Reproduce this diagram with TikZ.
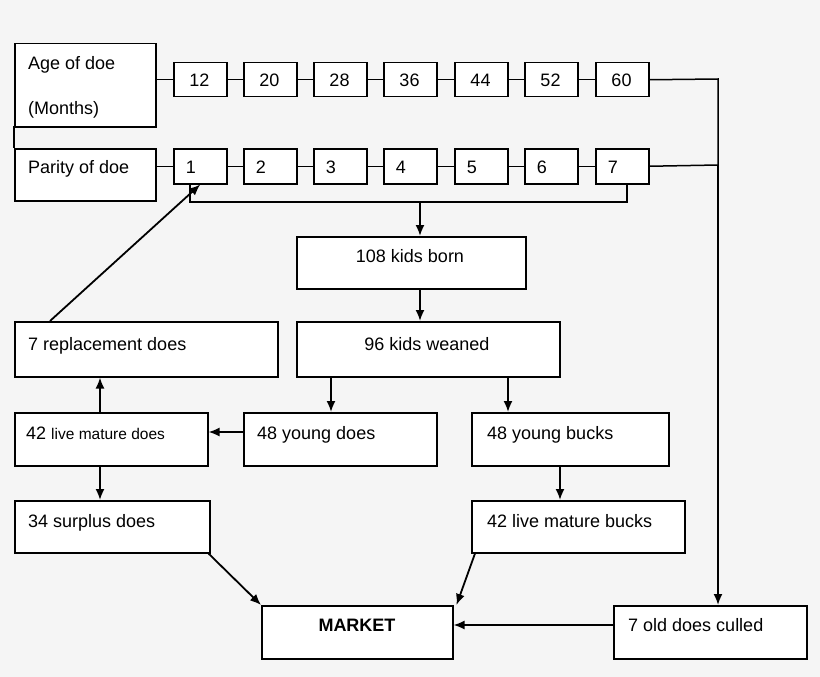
\documentclass[tikz,border=0pt]{standalone}
\usepackage{fontspec}
\setmainfont{Liberation Sans}
\usetikzlibrary{arrows.meta}
\newcommand\bx[5]{\node[box,minimum width={(#4-#2)*1pt},minimum height={(#5-#3)*1pt},anchor=north west] (#1) at (#2,#3) {};}
\begin{document}
\begin{tikzpicture}[x=1pt,y=-1pt,
  box/.style={draw,line width=1.5pt,inner sep=0pt,fill=white},
  txt/.style={anchor=base west,inner sep=0pt,font=\fontsize{18}{21}\selectfont},
  ctxt/.style={anchor=base,inner sep=0pt,font=\fontsize{18}{21}\selectfont},
  ln/.style={line width=1.5pt},
  arr/.style={line width=1.8pt,-{Latex[length=11pt,width=9pt]}}]
\fill[white!96!black] (0,0) rectangle (820,677);
\useasboundingbox (0,0) rectangle (820,677);
\coordinate (l1) at (14,126); \coordinate (l2) at (14,148);
\draw[ln] (l1)--(l2);
\bx{age}{14}{43}{155}{126}
\bx{par}{14}{148}{155}{200}
\node[txt] (tage) at (28,70) {Age of doe};
\node[txt] (tmon) at (28,114) {(Months)};
\node[txt] (tpar) at (28,173) {Parity of doe};
\foreach \i/\x/\a/\p in {1/173/12/1,2/243/20/2,3/313/28/3,4/383/36/4,5/454/44/5,6/524/52/6,7/595/60/7}{
  \bx{a\i}{\x}{62}{\x+53}{96}
  \bx{p\i}{\x}{148}{\x+53}{183}
  \node[ctxt] (ta\i) at (\x+26.5,87) {\a};
  \node[ctxt] (tp\i) at (\x+18,173) {\p};
}
\draw[ln] (age.east|-a1.west)--(a1.west);
\draw[ln] (par.east|-p1.west)--(p1.west);
\foreach \i/\j in {1/2,2/3,3/4,4/5,5/6,6/7}{
  \draw[ln] (a\i.east)--(a\j.west);
  \draw[ln] (p\i.east)--(p\j.west);
}
\coordinate (v1) at (718,79);
\coordinate (v2) at (718,165);
\coordinate (b1) at (190,202);
\coordinate (b2) at (627,202);
\coordinate (b3) at (420,202);
\draw[ln] (a7.east)--(v1)--(v2);
\draw[ln] (p7.east)--(v2);
\draw[ln] (p1.south-|b1)--(b1)--(b2)--(p7.south-|b2);
\bx{born}{296}{236}{525}{288}
\node[ctxt] (tborn) at (410,262) {108 kids born};
\bx{wean}{296}{321}{559}{376}
\node[ctxt] (twean) at (427,350) {96 kids weaned};
\bx{rep}{14}{321}{277}{376}
\node[txt] (trep) at (28,350) {7 replacement does};
\bx{ydo}{243}{412}{436}{465}
\node[txt] (tydo) at (257,439) {48 young does};
\bx{ybu}{471}{412}{668}{465}
\node[txt] (tybu) at (487,439) {48 young bucks};
\bx{lmd}{14}{412}{207}{465}
\node[txt] (tlmd) at (26,439) {42 {\fontsize{15.5}{18}\selectfont live mature does}};
\bx{sur}{14}{500}{209}{552}
\node[txt] (tsur) at (28,527) {34 surplus does};
\bx{lmb}{471}{500}{684}{552}
\node[txt] (tlmb) at (487,527) {42 live mature bucks};
\bx{mkt}{261}{605}{452}{658}
\node[ctxt,font=\fontsize{18}{21}\selectfont\bfseries] (tmkt) at (357,631) {MARKET};
\bx{old}{613}{605}{806}{658}
\node[txt] (told) at (628,631) {7 old does culled};
\draw[arr] (b3)--(born.north-|b3);
\draw[arr] (born.south-|b3)--(wean.north-|b3);
\draw[arr] (rep.north west)++(36,0) -- (p1.south);
\draw[arr] (wean.south-|331,0)--(ydo.north-|331,0);
\draw[arr] (wean.south-|508,0)--(ybu.north-|508,0);
\draw[arr] (ydo.west|-0,432)--(lmd.east|-0,432);
\draw[arr] (lmd.north-|100,0)--(rep.south-|100,0);
\draw[arr] (lmd.south-|100,0)--(sur.north-|100,0);
\draw[arr] (ybu.south-|560,0)--(lmb.north-|560,0);
\draw[arr] (v2)--(old.north-|v2);
\draw[arr] (old.west|-0,625)--(mkt.east|-0,625);
\draw[arr] (sur.south east)++(-2,0)--(mkt.north west);
\draw[arr] (lmb.south west)++(4,0)--([xshift=3pt]mkt.north east);
\end{tikzpicture}
\end{document}
